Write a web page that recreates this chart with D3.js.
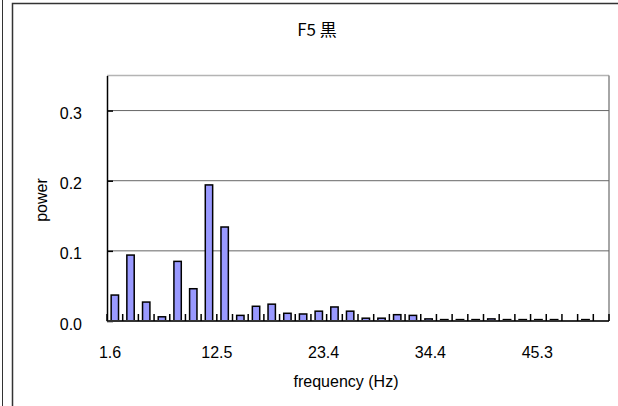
<!DOCTYPE html>
<html>
<head>
<meta charset="utf-8">
<script src="https://cdn.jsdelivr.net/npm/d3@7"></script>
<style>
  html, body { margin: 0; padding: 0; background: #fff; }
  svg { display: block; }
  text { font-family: "Liberation Sans", Arial, sans-serif; fill: #000; }
  .title { font-family: "Noto Sans CJK JP", "Liberation Sans", sans-serif; }
</style>
</head>
<body>
<svg id="chart" width="618" height="406"></svg>
<script>
// Power spectrum, 1.5625 Hz bins (1.6 … 50.0 Hz)
const frequencies = ["1.6","3.1","4.7","6.3","7.8","9.4","10.9","12.5","14.1","15.6",
  "17.2","18.8","20.3","21.9","23.4","25.0","26.6","28.1","29.7","31.3",
  "32.8","34.4","35.9","37.5","39.1","40.6","42.2","43.8","45.3","46.9","48.4","50.0"];
const power = [0.037,0.094,0.027,0.006,0.085,0.046,0.194,0.134,0.008,0.021,
  0.024,0.011,0.010,0.014,0.020,0.014,0.004,0.004,0.009,0.008,
  0.003,0.002,0.002,0.002,0.003,0.002,0.002,0.002,0.002,0,0.002,0];
const tickLabels = ["1.6","12.5","23.4","34.4","45.3"];
const yTicks = [0, 0.1, 0.2, 0.3];
const chartTitle = "F5 黒";
const xTitle = "frequency (Hz)";
const yTitle = "power";

const svg = d3.select("#chart");
const W = 618, H = 406;
const plot = { left: 107, right: 609, top: 75.5, bottom: 321 };

// outer frames
svg.append("rect").attr("width", W).attr("height", H).attr("fill", "#fff");
svg.append("line").attr("x1", 2.5).attr("x2", 2.5).attr("y1", 0).attr("y2", H)
  .attr("stroke", "#333").attr("stroke-width", 1);
svg.append("rect").attr("x", 12.5).attr("y", 3.5).attr("width", W + 20).attr("height", H + 20)
  .attr("fill", "#fff").attr("stroke", "#333").attr("stroke-width", 1.5);

const x = d3.scaleBand()
  .domain(frequencies)
  .range([plot.left, plot.right])
  .paddingInner(0.53)
  .paddingOuter(0.265);
const step = x.step();

// category label positions (labels sit on a slightly tighter pitch than the bars)
const xLabelPos = d3.scalePoint()
  .domain(frequencies)
  .range([110, 583]);

const y = d3.scaleLinear().domain([0, 0.35]).range([plot.bottom, plot.top]);

// plot area border (top and right)
svg.append("line").attr("x1", plot.left).attr("x2", plot.right)
  .attr("y1", plot.top).attr("y2", plot.top).attr("stroke", "#b4b4b4").attr("stroke-width", 1.5);
svg.append("line").attr("x1", plot.right).attr("x2", plot.right)
  .attr("y1", plot.top).attr("y2", plot.bottom).attr("stroke", "#888").attr("stroke-width", 1.5);

// horizontal gridlines
svg.append("g").selectAll("line")
  .data(yTicks.filter(d => d > 0))
  .join("line")
  .attr("x1", plot.left).attr("x2", plot.right)
  .attr("y1", d => y(d)).attr("y2", d => y(d))
  .attr("stroke", "#666").attr("stroke-width", 1);

// bars
svg.append("g").selectAll("rect")
  .data(frequencies.map((f, i) => ({ f, v: power[i] })).filter(d => d.v > 0))
  .join("rect")
  .attr("x", d => x(d.f))
  .attr("width", x.bandwidth())
  .attr("y", d => y(d.v))
  .attr("height", d => y(0) - y(d.v))
  .attr("fill", "#9999ff")
  .attr("stroke", "#000")
  .attr("stroke-width", 1.5);

// y axis with inward ticks
const yAxis = d3.axisLeft(y).tickValues(yTicks).tickFormat(d3.format(".1f"))
  .tickSizeInner(-6).tickSizeOuter(0).tickPadding(25);
const gy = svg.append("g").attr("transform", `translate(${plot.left},0)`).call(yAxis);
gy.select(".domain").attr("stroke", "#000").attr("stroke-width", 1.5);
gy.selectAll(".tick line").attr("stroke", "#000").attr("stroke-width", 1.5);
gy.selectAll(".tick text").attr("font-size", 16).attr("dy", "0.5em")
  .attr("font-family", "Liberation Sans, Arial, sans-serif");

// x axis: baseline, category boundary ticks and labels
svg.append("line").attr("x1", plot.left).attr("x2", plot.right)
  .attr("y1", plot.bottom).attr("y2", plot.bottom)
  .attr("stroke", "#333").attr("stroke-width", 2);
svg.append("g").selectAll("line")
  .data(d3.range(frequencies.length + 1))
  .join("line")
  .attr("x1", i => plot.left + i * step).attr("x2", i => plot.left + i * step)
  .attr("y1", plot.bottom).attr("y2", plot.bottom - 7)
  .attr("stroke", "#000").attr("stroke-width", 1.5);
svg.append("g").selectAll("text")
  .data(tickLabels)
  .join("text")
  .attr("x", d => xLabelPos(d))
  .attr("y", 358)
  .attr("text-anchor", "middle")
  .attr("font-size", 16)
  .text(d => d);

// titles
svg.append("text").attr("class", "title")
  .attr("x", 317).attr("y", 36).attr("text-anchor", "middle")
  .attr("font-size", 17).text(chartTitle);
svg.append("text")
  .attr("x", 346).attr("y", 387).attr("text-anchor", "middle")
  .attr("font-size", 16).text(xTitle);
svg.append("text")
  .attr("transform", "translate(47,200) rotate(-90)")
  .attr("text-anchor", "middle")
  .attr("font-size", 16).text(yTitle);
</script>
</body>
</html>
